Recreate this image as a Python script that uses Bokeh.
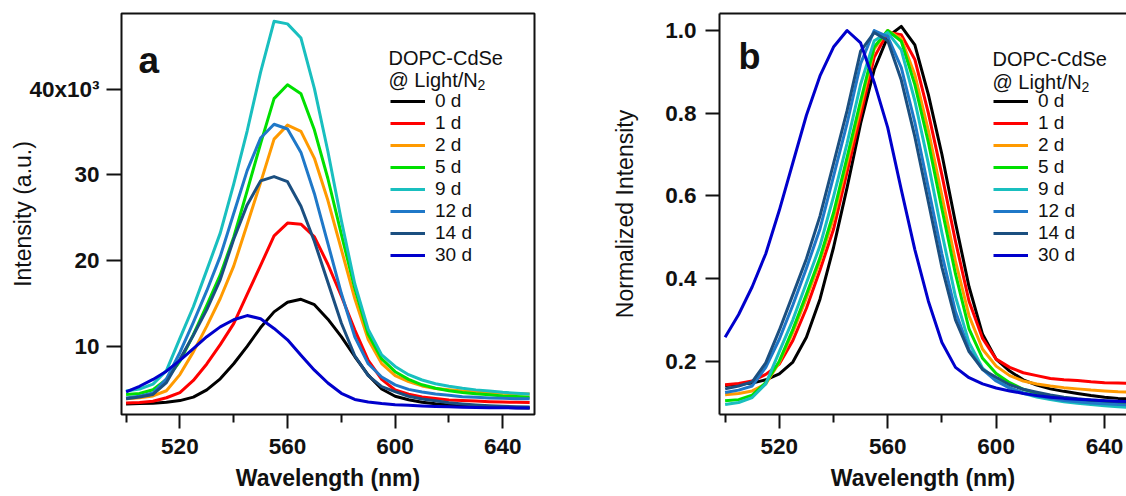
from bokeh.plotting import figure
from bokeh.models import Range1d, FixedTicker, Legend, LegendItem, Label, LinearAxis
from bokeh.layouts import row
from bokeh.embed import file_html
from bokeh.resources import INLINE

# ---------------- data ----------------
wavelength = [500, 505, 510, 515, 520, 525, 530, 535, 540, 545, 550, 555, 560, 565, 570, 575,
              580, 585, 590, 595, 600, 605, 610, 615, 620, 625, 630, 635, 640, 645, 650]

days = ["0 d", "1 d", "2 d", "5 d", "9 d", "12 d", "14 d", "30 d"]
colors = ["#000000", "#ff0000", "#ff9a00", "#00e000", "#19bfbf", "#1f78c8", "#1b4f80", "#0000cc"]

# panel a: intensity (x10^3 a.u.)
int_0d = [3.30, 3.34, 3.38, 3.50, 3.69, 4.10, 4.94, 6.23, 7.99, 10.02, 12.20, 14.03, 15.15, 15.50, 14.87, 13.18,
          11.15, 8.83, 6.66, 5.04, 4.20, 3.79, 3.50, 3.31, 3.19, 3.10, 3.03, 2.96, 2.91, 2.86, 2.84]
int_1d = [3.40, 3.47, 3.62, 4.02, 4.63, 6.04, 7.96, 10.22, 12.66, 16.06, 19.45, 22.90, 24.38, 24.25, 22.78, 19.58,
          15.88, 11.94, 8.37, 6.16, 4.93, 4.43, 4.11, 3.94, 3.77, 3.70, 3.65, 3.57, 3.52, 3.50, 3.47]
int_2d = [3.90, 4.01, 4.23, 4.84, 6.72, 9.37, 12.37, 15.59, 19.36, 24.21, 29.10, 34.17, 35.80, 35.08, 31.93, 27.04,
          21.32, 15.59, 10.82, 8.00, 6.60, 5.90, 5.40, 5.10, 4.96, 4.80, 4.70, 4.60, 4.55, 4.50, 4.47]
int_5d = [4.40, 4.52, 4.96, 6.17, 8.27, 11.37, 14.80, 18.34, 22.73, 28.13, 33.65, 38.89, 40.50, 39.45, 35.22, 29.58,
          23.09, 16.77, 11.41, 8.55, 7.06, 6.17, 5.53, 5.13, 4.84, 4.64, 4.48, 4.36, 4.24, 4.16, 4.08]
int_9d = [4.80, 5.04, 5.61, 7.19, 10.94, 14.63, 18.90, 23.21, 28.92, 35.11, 41.97, 47.90, 47.60, 45.95, 40.05, 32.76,
          24.70, 17.31, 11.99, 9.02, 7.67, 6.71, 6.09, 5.66, 5.37, 5.13, 4.94, 4.80, 4.65, 4.56, 4.46]
int_12d = [3.99, 4.21, 4.58, 6.22, 9.30, 12.80, 16.50, 20.50, 25.50, 30.50, 34.30, 35.90, 35.35, 32.62, 27.81, 22.02,
           16.20, 11.13, 7.98, 6.44, 5.52, 5.00, 4.70, 4.45, 4.30, 4.15, 4.07, 4.00, 3.95, 3.92, 3.90]
int_14d = [3.90, 4.11, 4.41, 5.79, 8.50, 11.30, 14.30, 17.80, 22.50, 26.50, 29.30, 29.80, 29.21, 26.35, 22.23, 17.49,
           12.74, 8.92, 6.60, 5.31, 4.74, 4.20, 3.87, 3.66, 3.45, 3.30, 3.18, 3.09, 3.03, 2.97, 2.94]
int_30d = [4.70, 5.36, 6.16, 7.12, 8.38, 9.76, 11.14, 12.28, 13.12, 13.60, 13.24, 12.10, 10.78, 8.98, 7.24, 5.74,
           4.54, 3.82, 3.52, 3.34, 3.22, 3.14, 3.06, 3.00, 2.96, 2.92, 2.90, 2.87, 2.85, 2.84, 2.82]

# panel b: normalized intensity
norm_0d = [0.141, 0.144, 0.147, 0.155, 0.169, 0.198, 0.258, 0.350, 0.475, 0.620, 0.775, 0.905, 0.985, 1.010, 0.965, 0.845,
           0.700, 0.535, 0.380, 0.265, 0.205, 0.176, 0.155, 0.142, 0.133, 0.127, 0.122, 0.117, 0.113, 0.110, 0.108]
norm_1d = [0.143, 0.146, 0.152, 0.168, 0.193, 0.250, 0.328, 0.420, 0.519, 0.657, 0.795, 0.935, 0.995, 0.990, 0.930, 0.800,
           0.650, 0.490, 0.345, 0.255, 0.205, 0.185, 0.172, 0.165, 0.158, 0.155, 0.153, 0.150, 0.148, 0.147, 0.146]
norm_2d = [0.119, 0.122, 0.128, 0.145, 0.197, 0.270, 0.353, 0.442, 0.546, 0.680, 0.815, 0.955, 1.000, 0.980, 0.893, 0.758,
           0.600, 0.442, 0.310, 0.229, 0.188, 0.165, 0.152, 0.145, 0.140, 0.136, 0.133, 0.130, 0.128, 0.126, 0.125]
norm_5d = [0.104, 0.107, 0.118, 0.148, 0.200, 0.277, 0.362, 0.450, 0.559, 0.693, 0.830, 0.960, 1.000, 0.974, 0.869, 0.729,
           0.568, 0.411, 0.278, 0.207, 0.170, 0.148, 0.132, 0.122, 0.115, 0.110, 0.106, 0.103, 0.100, 0.098, 0.096]
norm_9d = [0.095, 0.100, 0.112, 0.145, 0.223, 0.300, 0.389, 0.479, 0.598, 0.727, 0.870, 0.975, 0.995, 0.953, 0.830, 0.678,
           0.510, 0.356, 0.245, 0.183, 0.155, 0.135, 0.122, 0.113, 0.107, 0.102, 0.098, 0.095, 0.092, 0.090, 0.088]
norm_12d = [0.124, 0.130, 0.140, 0.185, 0.253, 0.336, 0.425, 0.520, 0.647, 0.775, 0.920, 1.000, 0.985, 0.910, 0.778, 0.619,
            0.459, 0.320, 0.228, 0.180, 0.152, 0.135, 0.124, 0.116, 0.110, 0.105, 0.102, 0.099, 0.097, 0.095, 0.094]
norm_14d = [0.133, 0.140, 0.150, 0.196, 0.275, 0.361, 0.448, 0.551, 0.678, 0.806, 0.950, 0.995, 0.975, 0.880, 0.743, 0.585,
            0.427, 0.300, 0.223, 0.180, 0.161, 0.143, 0.132, 0.125, 0.118, 0.113, 0.109, 0.106, 0.104, 0.102, 0.101]
norm_30d = [0.258, 0.313, 0.380, 0.460, 0.565, 0.680, 0.795, 0.890, 0.960, 1.000, 0.970, 0.875, 0.765, 0.615, 0.470, 0.345,
            0.245, 0.185, 0.160, 0.145, 0.135, 0.128, 0.122, 0.117, 0.113, 0.110, 0.108, 0.106, 0.104, 0.103, 0.102]

x_major = [520, 560, 600, 640]
x_minor = [500, 540, 580, 620]
ya_ticks = [10, 20, 30, 40]
ya_labels = {10: "10", 20: "20", 30: "30", 40: "40x10\u00b3"}
yb_ticks = [0.2, 0.4, 0.6, 0.8, 1.0]
yb_labels = {0.2: "0.2", 0.4: "0.4", 0.6: "0.6", 0.8: "0.8", 1.0: "1.0"}

series_a = [int_0d, int_1d, int_2d, int_5d, int_9d, int_12d, int_14d, int_30d]
series_b = [norm_0d, norm_1d, norm_2d, norm_5d, norm_9d, norm_12d, norm_14d, norm_30d]

FONT = "Liberation Sans"
INK = "#111111"


def style_axes(p, ylabel, y_ticks, y_labels, ytick_out, ylab_standoff, ytitle_standoff):
    xa = p.xaxis[0]
    xa.ticker = FixedTicker(ticks=x_major, minor_ticks=x_minor)
    xa.axis_label = "Wavelength (nm)"
    xa.axis_label_text_font_style = "bold"
    xa.axis_label_text_font_size = "23px"
    xa.axis_label_standoff = 8
    xa.major_tick_out = 14
    xa.minor_tick_out = 8
    xa.major_label_standoff = 10
    ya = p.yaxis[0]
    ya.ticker = FixedTicker(ticks=y_ticks)
    ya.major_label_overrides = y_labels
    ya.axis_label = ylabel
    ya.axis_label_text_font_style = "normal"
    ya.axis_label_text_font_size = "23px"
    ya.axis_label_standoff = ytitle_standoff
    ya.major_tick_out = ytick_out
    ya.minor_tick_out = 0
    ya.major_label_standoff = ylab_standoff
    for ax in (xa, ya):
        ax.major_tick_in = 0
        ax.minor_tick_in = 0
        ax.major_tick_line_color = INK
        ax.minor_tick_line_color = INK
        ax.major_tick_line_width = 2
        ax.minor_tick_line_width = 2
        ax.major_label_text_font = FONT
        ax.major_label_text_font_style = "bold"
        ax.major_label_text_font_size = "22.5px"
        ax.major_label_text_color = INK
        ax.axis_label_text_font = FONT
        ax.axis_label_text_color = INK
    p.xgrid.visible = False
    p.ygrid.visible = False


def add_legend(p, renderers, lx, ly, tx, ty1, ty2, sx, sy):
    items = [LegendItem(label=d, renderers=[r]) for d, r in zip(days, renderers)]
    leg = Legend(items=items, location=(lx, ly), orientation="vertical",
                 glyph_width=35, glyph_height=22, label_height=22, label_standoff=10,
                 spacing=0, padding=0, margin=0, border_line_color=None,
                 background_fill_alpha=0, label_text_font=FONT,
                 label_text_font_size="19px", label_text_color=INK)
    p.add_layout(leg)
    for txt, y in (("DOPC-CdSe", ty1), ("@ Light/N", ty2)):
        p.add_layout(Label(x=tx, y=y, x_units="screen", y_units="screen", text=txt,
                           text_font=FONT, text_font_size="20px", text_color=INK,
                           text_baseline="alphabetic", text_align="left"))
    p.add_layout(Label(x=sx, y=sy, x_units="screen", y_units="screen", text="2",
                       text_font=FONT, text_font_size="14px", text_color=INK,
                       text_baseline="alphabetic", text_align="left"))


# ---------------- panel a ----------------
pa = figure(width=563, height=496, x_range=Range1d(498.3, 651.8), y_range=Range1d(2.07, 48.81),
            output_backend="svg", toolbar_location=None,
            min_border_left=121, min_border_right=29, min_border_top=13, min_border_bottom=82)
pa.outline_line_color = INK
pa.outline_line_width = 2
pa.outline_line_alpha = 1
style_axes(pa, "Intensity (a.u.)", ya_ticks, ya_labels, 15, 7, -10)
pa.xaxis[0].axis_line_color = None
pa.yaxis[0].axis_line_color = None
rs_a = [pa.line(wavelength, s, line_color=c, line_width=3, line_join="round")
        for s, c in zip(series_a, colors)]
add_legend(pa, rs_a, 269, 148, 267, 357, 335, 356, 330)
pa.add_layout(Label(x=17, y=354, x_units="screen", y_units="screen", text="a",
                    text_font=FONT, text_font_size="37px", text_font_style="bold",
                    text_color=INK, text_baseline="alphabetic"))

# ---------------- panel b ----------------
pb = figure(width=563, height=496, x_range=Range1d(497.93, 648.1), y_range=Range1d(0.071, 1.0411),
            output_backend="svg", toolbar_location=None,
            min_border_left=156, min_border_right=0, min_border_top=13, min_border_bottom=82)
pb.outline_line_color = None
style_axes(pb, "Normalized Intensity", yb_ticks, yb_labels, 14, 9, 24)
for ax in (pb.xaxis[0], pb.yaxis[0]):
    ax.axis_line_color = INK
    ax.axis_line_width = 2
top = LinearAxis(ticker=FixedTicker(ticks=[]), major_tick_out=0, major_tick_in=0,
                 minor_tick_out=0, minor_tick_in=0, major_label_text_font_size="0px",
                 axis_line_color=INK, axis_line_width=2)
pb.add_layout(top, "above")
rs_b = [pb.line(wavelength, s, line_color=c, line_width=3, line_join="round")
        for s, c in zip(series_b, colors)]
add_legend(pb, rs_b, 274, 148, 273, 356, 333, 362, 328)
pb.add_layout(Label(x=19, y=358, x_units="screen", y_units="screen", text="b",
                    text_font=FONT, text_font_size="36px", text_font_style="bold",
                    text_color=INK, text_baseline="alphabetic"))

layout = row(pa, pb)
open("out.html", "w").write(file_html(layout, INLINE))
